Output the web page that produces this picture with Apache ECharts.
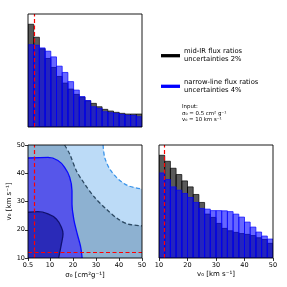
<!DOCTYPE html>
<html><head><meta charset="utf-8">
<script src="https://cdn.jsdelivr.net/npm/echarts@6/dist/echarts.min.js"></script>
<style>html,body{margin:0;padding:0;background:#fff}#c{width:287px;height:287px}</style>
</head><body><div id="c"></div>
<script>
// ---- data ----
const sigmaRange = [0.5, 50];
const vRange = [10, 50];
const nBins = 20;
const sigmaTicks = [0.5, 10, 20, 30, 40, 50];
const vTicks = [10, 20, 30, 40, 50];

// marginal histograms (relative counts per bin)
const sigmaHistMidIR   = [103, 90, 78.5, 68.7, 59.7, 50.7, 44, 38, 32.7, 30, 26.3, 23.7, 20.3, 17.7, 16, 14.7, 13.7, 13, 13, 13];
const sigmaHistNarrow  = [82.5, 82, 79.3, 76, 70.3, 61, 54.7, 45.5, 37, 30.5, 26.5, 20.3, 18.7, 15.3, 14.3, 13.7, 12.7, 11.7, 11.7, 10.3];
const vHistMidIR       = [103, 97, 90, 83.7, 77.3, 71.3, 63.7, 55.7, 44, 40.7, 34.7, 29.7, 27.3, 25.7, 24.5, 23.7, 22.5, 20.3, 18.5, 14.7];
const vHistNarrow      = [85.3, 78.7, 71.3, 68, 64.7, 60.7, 55.7, 49.7, 49, 47.5, 47.5, 47.3, 46.5, 44, 41, 36, 31, 26, 22, 19];

// 2D credible-region contours [sigma0, v0]
const midIROuter   = [[33.1, 50], [33.8, 45.6], [36, 41.5], [39.6, 38], [43.9, 35.6], [50, 34.4]];
const midIRInner   = [[16.4, 50], [18.6, 46.8], [21.5, 40.9], [25.1, 36.2], [29.4, 31.5], [34.5, 27.3], [39.6, 23.8], [43.9, 22], [50, 21.4]];
const narrowOuter  = [[0.5, 45.4], [9.2, 45.6], [13.5, 44.5], [16.4, 42.1], [18.6, 38.6], [19.6, 33.8], [19.6, 29.1], [20.5, 23.2], [21.9, 18.5], [23.4, 13.8], [24, 10]];
const narrowInner  = [[0.5, 26.2], [4.8, 26.4], [9.2, 25.6], [12.8, 23.8], [15, 20.9], [15.7, 18.5], [15, 15], [13.8, 10]];

const markerSigma = 3.1;
const markerV = 12;

// ---- build ----
function edges(r) { const w = (r[1] - r[0]) / nBins; const e = []; for (let i = 0; i <= nBins; i++) e.push(r[0] + i * w); return e; }
const sigmaEdges = edges(sigmaRange), vEdges = edges(vRange);
function histData(e, h) { return h.map((v, i) => [e[i], e[i + 1], v]); }

const font = 'DejaVu Sans';
const grayFill = 'rgba(0,0,0,0.65)', blueFill = 'rgba(0,0,255,0.6)';
function histSeries(gi, e, h, fill, stroke, extra) {
  return Object.assign({
    type: 'custom', xAxisIndex: gi, yAxisIndex: gi, data: histData(e, h), encode: { x: [0, 1], y: 2 },
    silent: true, clip: true,
    renderItem: (p, api) => {
      const a = api.coord([api.value(0), api.value(2)]);
      const b = api.coord([api.value(1), 0]);
      return { type: 'rect', shape: { x: a[0], y: a[1], width: b[0] - a[0], height: b[1] - a[1] },
        style: { fill: fill, stroke: stroke, lineWidth: 0.7 } };
    }
  }, extra || {});
}
function polySeries(pts, close, fill) {
  return {
    type: 'custom', xAxisIndex: 1, yAxisIndex: 1, data: pts, encode: { x: 0, y: 1 }, silent: true, clip: true,
    renderItem: (p, api) => {
      if (p.dataIndex !== 0) return null;
      return { type: 'polygon', shape: { points: pts.concat(close).map(q => api.coord(q)) }, style: { fill: fill } };
    }
  };
}
function lineSeries(pts, color, dashed) {
  return { type: 'line', xAxisIndex: 1, yAxisIndex: 1, data: pts, smooth: 0.3, showSymbol: false, silent: true,
    lineStyle: { color: color, width: 1.3, type: dashed ? [4, 2.5] : 'solid' }, z: 3 };
}
const redLine = { color: '#ff0000', width: 1.2, type: [4, 2.5] };
function mark(list) { return { silent: true, symbol: ['none', 'none'], label: { show: false }, lineStyle: redLine, data: list, animation: false }; }

const ymaxS = 1.1 * Math.max(...sigmaHistMidIR, ...sigmaHistNarrow);
const ymaxV = 1.1 * Math.max(...vHistMidIR, ...vHistNarrow);
const gridBase = { show: true, borderColor: '#000', borderWidth: 0.9, backgroundColor: 'transparent', z: 10 };
const hidden = { axisLine: { show: false }, axisTick: { show: false }, axisLabel: { show: false }, splitLine: { show: false } };
const lbl = { color: '#000', fontSize: 6.5, fontFamily: font };
const nameStyle = { color: '#000', fontSize: 7, fontFamily: font };

const option = {
  animation: false,
  grid: [
    Object.assign({ left: 28, top: 14, width: 114, height: 113 }, gridBase),
    Object.assign({ left: 28, top: 145, width: 114, height: 113 }, gridBase),
    Object.assign({ left: 159, top: 145, width: 114, height: 113 }, gridBase)
  ],
  xAxis: [
    Object.assign({ gridIndex: 0, type: 'value', min: sigmaRange[0], max: sigmaRange[1] }, hidden),
    { gridIndex: 1, type: 'value', min: sigmaRange[0], max: sigmaRange[1], splitLine: { show: false },
      axisLine: { show: false }, axisTick: { show: true, length: 3, customValues: sigmaTicks, lineStyle: { color: '#000', width: 0.8 } },
      axisLabel: Object.assign({ customValues: sigmaTicks, margin: 4 }, lbl),
      name: 'σ₀ [cm²g⁻¹]', nameLocation: 'middle', nameGap: 14, nameTextStyle: nameStyle },
    { gridIndex: 2, type: 'value', min: vRange[0], max: vRange[1], interval: 10, splitLine: { show: false },
      axisLine: { show: false }, axisTick: { show: true, length: 3, lineStyle: { color: '#000', width: 0.8 } },
      axisLabel: Object.assign({ margin: 4 }, lbl),
      name: 'v₀ [km s⁻¹]', nameLocation: 'middle', nameGap: 13, nameTextStyle: nameStyle }
  ],
  yAxis: [
    Object.assign({ gridIndex: 0, type: 'value', min: 0, max: ymaxS }, hidden),
    { gridIndex: 1, type: 'value', min: vRange[0], max: vRange[1], interval: 10, splitLine: { show: false },
      axisLine: { show: false }, axisTick: { show: true, length: 3, lineStyle: { color: '#000', width: 0.8 } },
      axisLabel: Object.assign({ margin: 3 }, lbl),
      name: 'v₀ [km s⁻¹]', nameLocation: 'middle', nameGap: 14, nameTextStyle: nameStyle },
    Object.assign({ gridIndex: 2, type: 'value', min: 0, max: ymaxV }, hidden)
  ],
  series: [
    histSeries(0, sigmaEdges, sigmaHistMidIR, grayFill, '#000'),
    histSeries(0, sigmaEdges, sigmaHistNarrow, blueFill, '#0000ff', { markLine: mark([{ xAxis: markerSigma }]) }),
    polySeries(midIROuter, [[50, 10], [0.5, 10], [0.5, 50]], '#bcdbf7'),
    polySeries(midIRInner, [[50, 10], [0.5, 10], [0.5, 50]], '#8db1d1'),
    polySeries(narrowOuter, [[0.5, 10]], '#5656ea'),
    polySeries(narrowInner, [[0.5, 10]], '#2a2ab8'),
    lineSeries(midIROuter, '#3b95ea', true),
    lineSeries(midIRInner, '#2d4a63', true),
    lineSeries(narrowOuter, '#0a0aff', false),
    Object.assign(lineSeries(narrowInner, '#101070', false), { markLine: mark([{ xAxis: markerSigma }, { yAxis: markerV }]) }),
    histSeries(2, vEdges, vHistMidIR, grayFill, '#000'),
    histSeries(2, vEdges, vHistNarrow, blueFill, '#0000ff', { markLine: mark([{ xAxis: markerV }]) })
  ],
  graphic: [
    { type: 'line', shape: { x1: 161, y1: 55.7, x2: 180, y2: 55.7 }, style: { stroke: '#000', lineWidth: 3.3 } },
    { type: 'text', x: 184, y: 55, style: { text: 'mid-IR flux ratios\nuncertainties 2%', fontSize: 6.8, lineHeight: 8.4, fontFamily: font, fill: '#000', verticalAlign: 'middle' } },
    { type: 'line', shape: { x1: 161, y1: 86.3, x2: 180, y2: 86.3 }, style: { stroke: '#0000ff', lineWidth: 3.3 } },
    { type: 'text', x: 184, y: 86.2, style: { text: 'narrow-line flux ratios\nuncertainties 4%', fontSize: 6.8, lineHeight: 8.4, fontFamily: font, fill: '#000', verticalAlign: 'middle' } },
    { type: 'text', x: 182, y: 113.3, style: { text: 'Input:\nσ₀ = 0.5 cm² g⁻¹\nv₀ = 10 km s⁻¹', fontSize: 5.4, lineHeight: 6.5, fontFamily: font, fill: '#000', verticalAlign: 'middle' } }
  ]
};
const chart = echarts.init(document.getElementById('c'), null, { renderer: 'canvas' });
chart.setOption(option);
</script></body></html>
